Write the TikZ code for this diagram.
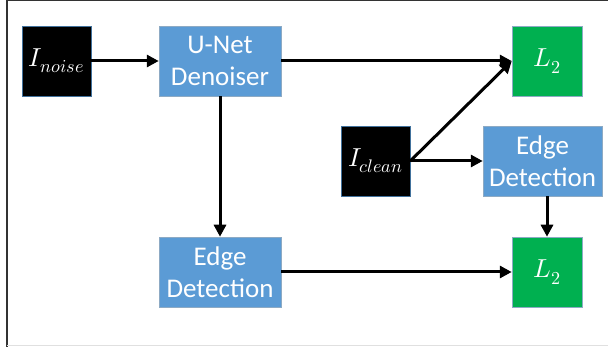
\documentclass[tikz,border=0pt]{standalone}
\usepackage{fontspec}
\usepackage{unicode-math}
\setmainfont{Carlito}
\setmathfont{Latin Modern Math}
\usetikzlibrary{arrows.meta}
\definecolor{boxblue}{HTML}{5B9BD5}
\definecolor{boxgreen}{HTML}{00B050}
\definecolor{edgeblue}{HTML}{41719C}

\begin{document}
\begin{tikzpicture}[x=1pt,y=-1pt,
  blockbox/.style={fill=boxblue,draw=edgeblue!60,line width=0.5pt,text=white,
    minimum height=70pt,align=center,inner sep=0pt,
    font=\fontsize{27}{32}\selectfont},
  imgbox/.style={fill=black,draw=edgeblue,line width=0.5pt,text=white,
    minimum width=69pt,minimum height=70pt,inner sep=0pt,
    font=\fontsize{26}{32}\selectfont},
  lossbox/.style={fill=boxgreen,draw=edgeblue!60,line width=0.5pt,text=white,
    minimum width=70pt,minimum height=70pt,inner sep=0pt,
    font=\fontsize{26}{32}\selectfont},
  flow/.style={line width=3pt,-{Triangle[length=12pt,width=12pt]}}]
  \useasboundingbox (0,0) rectangle (608,347);
  \draw[black!80,line width=1.5pt] (7,347) -- (7,0.75) -- (608,0.75);
  \draw[black!12,line width=1pt] (7,346) -- (608,346);

  \node[imgbox] (noise) at (56.5,61) {$I_{noise}$};
  \node[blockbox,minimum width=122pt] (unet) at (220,61) {U-Net\\Denoiser};
  \node[lossbox] (ltop) at (547,61) {$L_2$};
  \node[imgbox] (clean) at (375.5,161) {$I_{clean}$};
  \node[blockbox,minimum width=119pt] (edger) at (542.5,161) {Edge\\Detection};
  \node[blockbox,minimum width=122pt] (edgeb) at (220,272) {Edge\\Detection};
  \node[lossbox] (lbot) at (547,272) {$L_2$};

  \draw[flow] (noise) -- (unet);
  \draw[flow] (unet) -- (ltop);
  \draw[flow] (clean.east) -- (ltop.west);
  \draw[flow] (clean) -- (edger);
  \draw[flow] (unet) -- (edgeb);
  \draw[flow] (edger.south -| lbot.north) -- (lbot.north);
  \draw[flow] (edgeb) -- (lbot);
\end{tikzpicture}
\end{document}
